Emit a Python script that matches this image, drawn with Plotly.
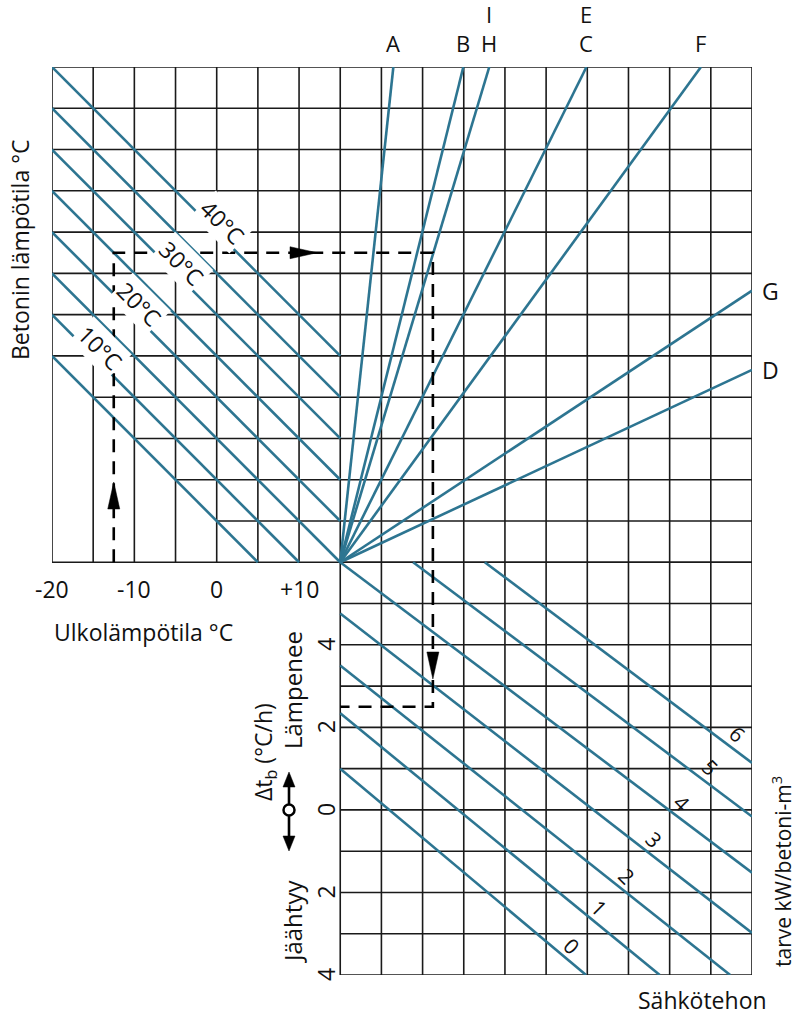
import plotly.graph_objects as go

# ---------------- data ----------------
# upper diagram: outdoor temperature (°C) on x
outdoor_ticks = [-20, -10, 0, 10]
outdoor_tick_labels = ["-20", "-10", "0", "+10"]
# lower diagram: rate of concrete temperature change Δt_b (°C/h); + = warming, - = cooling
rate_ticks = [4, 2, 0, -2, -4]
rate_tick_labels = ["4", "2", "0", "2", "4"]

# concrete temperature isotherms: level at left edge (x = -20), slope -1 per 5 °C
iso_start = [18, 17, 16, 15, 14, 13, 12, 11]
iso_names = ["40°C", "", "30°C", "", "20°C", "", "10°C", ""]

# rays (formwork / insulation types) from the pivot point
pivot_x, pivot_y = 15, 6
ray_names = ["A", "B", "H", "C", "F", "G", "D"]
ray_names_upper = ["", "", "I", "E", "", "", ""]
ray_end_x = [21.45, 29.95, 33.1, 44.9, 58.8, 65, 65]
ray_end_y = [18, 18, 18, 18, 18, 12.58, 10.66]

# heating-power lines (kW per m³ of concrete)
power_levels = [0, 1, 2, 3, 4, 5, 6]
power_x0 = [15, 15, 15, 15, 15, 23.85, 32.55]
power_y0 = [1, 2.34, 3.5, 4.76, 6, 6, 6]
power_x1 = [44.85, 53.8, 62.35, 65, 65, 65, 65]
power_y1 = [-4, -4, -4, -2.98, -1.52, -0.16, 1.14]

# worked example (dashed reading path)
example_x = [-12.5, -12.5, 26.25, 26.25, 15]
example_y = [6, 13.5, 13.5, 2.5, 2.5]

# ---------------- layout constants ----------------
X_MIN, X_MAX, Y_MIN, Y_MAX = -20, 65, -4, 18
W, H = 796, 1018
ML, MR, MT, MB = 52, 44, 67, 43
PW, PH = W - ML - MR, H - MT - MB
SX = (X_MAX - X_MIN) / PW   # data units per px
SY = (Y_MAX - Y_MIN) / PH

def px_x(px):
    return X_MIN + (px - ML) * SX

def px_y(py):
    return Y_MAX - (py - MT) * SY

BLUE = "#2d7591"
GRID = "#1a1a1a"
FONT = "Open Sans, Noto Sans, DejaVu Sans, sans-serif"

fig = go.Figure()

def add_segments(segs, color, width, dash=None):
    xs, ys = [], []
    for (x0, y0, x1, y1) in segs:
        xs += [x0, x1, None]
        ys += [y0, y1, None]
    line = dict(color=color, width=width)
    if dash:
        line["dash"] = dash
    fig.add_trace(go.Scatter(x=xs, y=ys, mode="lines", line=line,
                             hoverinfo="skip", showlegend=False))

# ---- grid ----
grid = []
for x in range(X_MIN, X_MAX + 1, 5):          # upper verticals
    grid.append((x, pivot_y, x, Y_MAX))
low = min(iso_start)
for y in range(pivot_y, Y_MAX + 1):            # upper horizontals (clipped by lowest isotherm)
    xs = X_MIN if (y == pivot_y or y >= low) else X_MIN + 5 * (low - y)
    grid.append((xs, y, X_MAX, y))
for x in range(pivot_x, X_MAX + 1, 5):        # lower verticals
    grid.append((x, Y_MIN, x, pivot_y))
for y in range(Y_MIN, pivot_y + 1):            # lower horizontals
    grid.append((pivot_x, y, X_MAX, y))
add_segments(grid, GRID, 1.6)

# ---- isotherms ----
iso_segs = []
for s in iso_start:
    ex = min(pivot_x, X_MIN + 5 * (s - pivot_y))
    ey = s - (ex - X_MIN) / 5
    iso_segs.append((X_MIN, s, ex, ey))
add_segments(iso_segs, BLUE, 2.6)

# ---- rays ----
add_segments([(pivot_x, pivot_y, ex, ey) for ex, ey in zip(ray_end_x, ray_end_y)], BLUE, 2.6)

# ---- power lines ----
add_segments(list(zip(power_x0, power_y0, power_x1, power_y1)), BLUE, 2.6)

# ---- example path ----
fig.add_trace(go.Scatter(x=example_x, y=example_y, mode="lines",
                         line=dict(color="black", width=2.6, dash="13px,9px"),
                         hoverinfo="skip", showlegend=False))

def arrowhead(tx, ty, d, L=27, Wd=6):
    if d == "up":
        pts = [(tx, ty), (tx - Wd * SX, ty - L * SY), (tx + Wd * SX, ty - L * SY)]
    elif d == "down":
        pts = [(tx, ty), (tx - Wd * SX, ty + L * SY), (tx + Wd * SX, ty + L * SY)]
    else:  # right
        pts = [(tx, ty), (tx - L * SX, ty + Wd * SY), (tx - L * SX, ty - Wd * SY)]
    xs = [p[0] for p in pts] + [pts[0][0]]
    ys = [p[1] for p in pts] + [pts[0][1]]
    fig.add_trace(go.Scatter(x=xs, y=ys, mode="lines", fill="toself",
                             fillcolor="black", line=dict(color="black", width=0.5),
                             hoverinfo="skip", showlegend=False))

arrowhead(example_x[0], px_y(482), "up")
arrowhead(px_x(317), example_y[1], "right")
arrowhead(example_x[2], px_y(679), "down")

# ---- Δt direction symbol ----
sym_x = px_x(289)
fig.add_trace(go.Scatter(x=[sym_x, sym_x], y=[px_y(780), px_y(843)], mode="lines",
                         line=dict(color="black", width=2.6),
                         hoverinfo="skip", showlegend=False))
arrowhead(sym_x, px_y(772), "up", L=15, Wd=6)
arrowhead(sym_x, px_y(851), "down", L=15, Wd=6)
fig.add_trace(go.Scatter(x=[sym_x], y=[0], mode="markers",
                         marker=dict(symbol="circle", size=11, color="white",
                                     line=dict(color="black", width=2.5)),
                         hoverinfo="skip", showlegend=False))

# ---------------- text (paper-referenced so it may sit outside the axes) ----------------
ann = []
def text(x, y, t, size=23, angle=0, xa="center", ya="middle", bg=None, pad=1, **kw):
    d = dict(x=(x - X_MIN) / (X_MAX - X_MIN), y=(y - Y_MIN) / (Y_MAX - Y_MIN),
             xref="paper", yref="paper", text=t, showarrow=False,
             textangle=angle, xanchor=xa, yanchor=ya, borderpad=pad,
             font=dict(family=FONT, size=size, color="#111"))
    if bg:
        d["bgcolor"] = bg
    d.update(kw)
    ann.append(d)

for v, lab in zip(outdoor_ticks, outdoor_tick_labels):
    text(v, px_y(589), lab)
text(px_x(52), px_y(632), "Ulkolämpötila °C", xa="left")
for v, lab in zip(rate_ticks, rate_tick_labels):
    text(px_x(326), v, lab, angle=-90)
text(px_x(292), px_y(690), "Lämpenee", size=24, angle=-90)
text(px_x(292), px_y(922), "Jäähtyy", size=24, angle=-90)
text(px_x(264), px_y(752), "Δt<sub>b</sub> (°C/h)", size=23, angle=-90)
text(px_x(20), px_y(250), "Betonin lämpötila °C", size=23, angle=-90)
text(px_x(769), px_y(1000), "Sähkötehon", size=23, xa="right")
text(px_x(781), px_y(872), "tarve kW/betoni-m<sup>3</sup>", size=21, angle=-90, pad=0)

for name, upper, ex, ey in zip(ray_names, ray_names_upper, ray_end_x, ray_end_y):
    if ey >= Y_MAX:
        text(ex, px_y(43.5), name, size=22, pad=0)
        if upper:
            text(ex, px_y(14), upper, size=22, pad=0)
    else:
        text(ex, ey, name, size=23, xa="left", xshift=8)

iso_label_x = {"40°C": 0.7, "30°C": -4.3, "20°C": -9.4, "10°C": -14.1}
for s, name in zip(iso_start, iso_names):
    if name:
        lx = iso_label_x[name]
        ly = s - (lx - X_MIN) / 5 + 0.38
        text(lx, ly, name, size=23, angle=45, bg="white")

for k, x0, y0, x1, y1 in zip(power_levels, power_x0, power_y0, power_x1, power_y1):
    lx = 43.1 + 3.35 * k
    ly = y0 + (y1 - y0) * (lx - x0) / (x1 - x0) + 0.42
    text(lx, ly, str(k), size=21, angle=45)

fig.update_layout(
    width=W, height=H,
    margin=dict(l=ML, r=MR, t=MT, b=MB, pad=0),
    paper_bgcolor="white", plot_bgcolor="white",
    xaxis=dict(range=[X_MIN, X_MAX], visible=False, fixedrange=True),
    yaxis=dict(range=[Y_MIN, Y_MAX], visible=False, fixedrange=True),
    annotations=ann,
    showlegend=False,
)

fig.write_html("out.html",
               config={"displayModeBar": False, "staticPlot": True},
               post_script="document.body.style.margin='0';document.body.style.overflow='hidden';")
